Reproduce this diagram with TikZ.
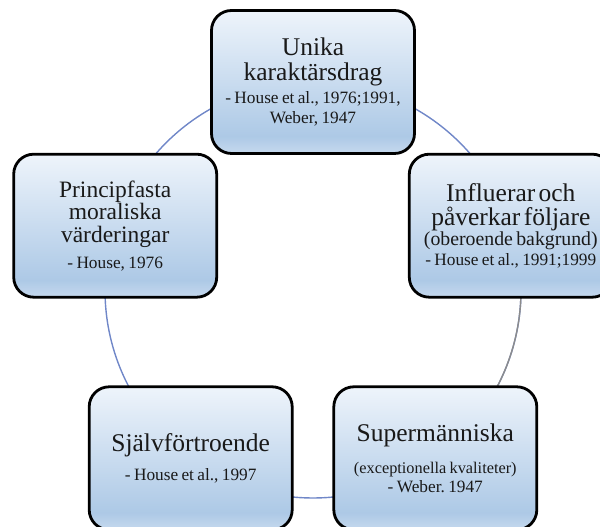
\documentclass[tikz,border=0pt]{standalone}
\usepackage{fontspec}
\setmainfont{Liberation Serif}
\frenchspacing
\definecolor{bxtop}{HTML}{EEF4FB}
\definecolor{bxmid}{HTML}{ADC9E6}
\definecolor{bxbot}{HTML}{C6D9EE}
\definecolor{ringblue}{HTML}{7087C8}
\definecolor{ringgray}{HTML}{8C8C8C}
\pgfdeclareverticalshading{boxshade}{100bp}{color(0bp)=(bxbot); color(25bp)=(bxbot); color(31bp)=(bxmid); color(75bp)=(bxtop); color(100bp)=(bxtop)}
\newcommand\ttlf{\fontsize{25.5}{24.5}\selectfont}
\newcommand\subf{\fontsize{17.3}{20}\selectfont}
\tikzset{
  box/.style={rectangle, rounded corners=20pt, draw=black, line width=2.8pt,
    shade, shading=boxshade, minimum width=203pt, minimum height=143pt,
    text width=198pt, align=center, inner sep=0pt, text=black!90,
    execute at begin node={\lineskiplimit=-20pt\relax\frenchspacing}},
  ring/.style={circle, draw=ringblue, line width=1.4pt, minimum size=416pt, inner sep=0pt, outer sep=0pt}
}
\begin{document}
\begin{tikzpicture}[x=1pt,y=1pt]
\useasboundingbox (0,0) rectangle (600,527);
\node[ring] (ring) at (313,237) {};
\draw[ringgray, line width=1.4pt] (ring.0) arc[start angle=0, end angle=-40, radius=208pt];

\node[box] (top) at (313,445)
  {{\ttlf Unika\\karaktärsdrag\par}\vspace{3pt}{\subf - House et al., 1976;1991,\\Weber, 1947\par}};
\node[box] (right) at (510.8,301.3)
  {{\ttlf Influerar och\\påverkar följare\par}{\fontsize{19.8}{20}\selectfont (oberoende bakgrund)\par}{\subf - House et al., 1991;1999\par}};
\node[box] (bright) at (435.3,68.7)
  {{\ttlf Supermänniska\par}\vspace{13pt}{\fontsize{16.3}{19}\selectfont (exceptionella kvaliteter)\par}{\fontsize{17.3}{19}\selectfont - Weber. 1947\par}};
\node[box] (bleft) at (190.7,68.7)
  {{\ttlf Självförtroende\par}\vspace{9pt}{\subf - House et al., 1997\par}};
\node[box] (left) at (115.2,301.3)
  {{\fontsize{23.5}{22.5}\selectfont Principfasta\\moraliska\\värderingar\par}\vspace{6pt}{\subf - House, 1976\par}};
\end{tikzpicture}
\end{document}
